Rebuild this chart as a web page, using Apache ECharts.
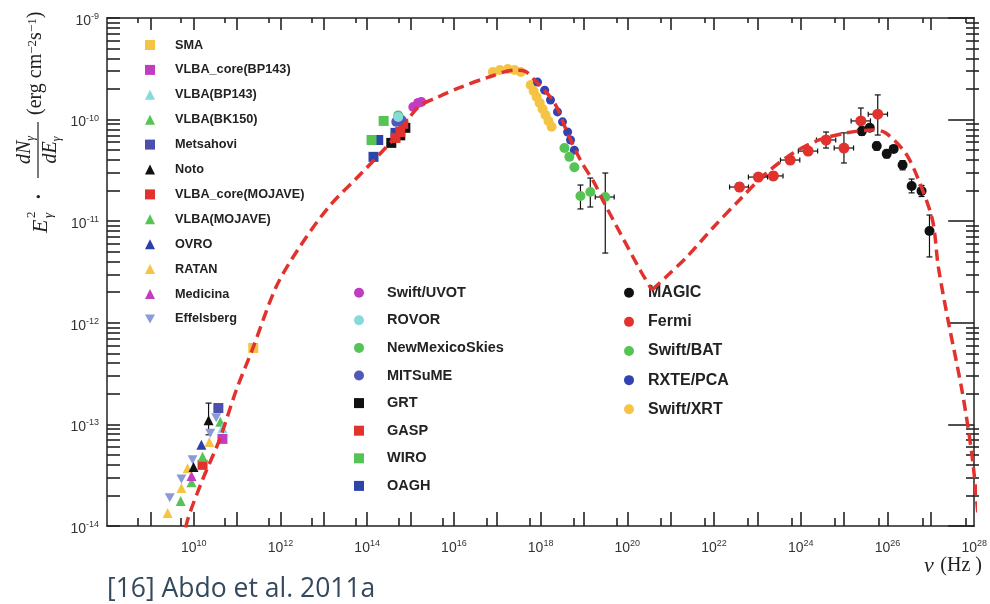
<!DOCTYPE html>
<html><head><meta charset="utf-8">
<script src="https://cdn.jsdelivr.net/npm/echarts@6/dist/echarts.min.js"></script>
<style>html,body{margin:0;padding:0;background:#fff}#c{width:990px;height:604px}</style>
</head><body><div id="c"></div>
<script>
// ---------- data: [nu (Hz), E^2 dN/dE, (Flo, Fhi), (nuLo, nuHi)] ----------
const SMA = [[2.36e11, 5.65e-13]];
const VLBA_core_BP143 = [[4.6e10, 7.2e-14]];
const VLBA_BP143 = [[4.6e10, 9.2e-14]];
const VLBA_BK150 = [[4.1e10, 1.06e-13], [1.6e10, 4.8e-14]];
const Metsahovi = [[3.7e10, 1.45e-13]];
const Noto = [[2.2e10, 1.10e-13, 7.9e-14, 1.62e-13], [9.9e9, 3.8e-14]];
const VLBA_core_MOJAVE = [[1.6e10, 4.0e-14]];
const VLBA_MOJAVE = [[8.9e9, 2.7e-14], [5.0e9, 1.76e-14]];
const OVRO = [[1.5e10, 6.3e-14]];
const RATAN = [[2.3e10, 6.7e-14], [7.2e9, 3.7e-14], [5.2e9, 2.37e-14], [2.5e9, 1.34e-14]];
const Medicina = [[8.9e9, 3.1e-14]];
const Effelsberg = [[3.3e10, 1.16e-13], [2.4e10, 8.2e-14], [9.4e9, 4.5e-14], [5.2e9, 2.9e-14], [2.8e9, 1.9e-14]];

const SwiftUVOT = [[1.16e15, 1.33e-10], [1.5e15, 1.46e-10], [1.77e15, 1.49e-10]];
const ROVOR = [[5.2e14, 1.06e-10]];
const NewMexicoSkies = [[5.2e14, 1.1e-10]];
const MITSuME = [[4.7e14, 9.5e-11], [6.2e14, 9.9e-11]];
const GRT = [[3.6e14, 5.9e-11], [5.8e14, 7.0e-11], [7.6e14, 8.3e-11]];
const GASP = [[4.5e14, 6.6e-11], [5.8e14, 7.55e-11], [6.8e14, 9.1e-11]];
const WIRO = [[2.4e14, 9.7e-11], [1.26e14, 6.3e-11]];
const OAGH = [[1.4e14, 4.3e-11], [1.8e14, 6.3e-11], [4.5e14, 7.4e-11]];

const MAGIC = [
  [2.56e25, 7.7e-11, 7.0e-11, 8.5e-11], [3.9e25, 8.3e-11, 7.7e-11, 8.9e-11],
  [5.65e25, 5.5e-11, 5.0e-11, 6.0e-11], [9.6e25, 4.6e-11, 4.2e-11, 5.0e-11],
  [1.39e26, 5.15e-11, 4.8e-11, 5.5e-11], [2.23e26, 3.57e-11, 3.2e-11, 3.95e-11],
  [3.6e26, 2.22e-11, 1.9e-11, 2.6e-11], [6.1e26, 1.98e-11, 1.75e-11, 2.25e-11],
  [9.3e26, 8.0e-12, 4.45e-12, 1.15e-11]
];
const Fermi = [
  [3.86e22, 2.17e-11, 1.98e-11, 2.38e-11, 2.28e22, 6.22e22],
  [1.05e23, 2.72e-11, 2.50e-11, 2.95e-11, 6.2e22, 1.72e23],
  [2.33e23, 2.79e-11, 2.55e-11, 3.05e-11, 1.4e23, 3.9e23],
  [5.7e23, 4.0e-11, 3.7e-11, 4.35e-11, 3.4e23, 9.5e23],
  [1.48e24, 4.9e-11, 4.5e-11, 5.35e-11, 8.8e23, 2.45e24],
  [3.83e24, 6.3e-11, 5.25e-11, 7.55e-11, 2.3e24, 6.4e24],
  [9.9e24, 5.25e-11, 3.74e-11, 7.4e-11, 5.9e24, 1.65e25],
  [2.43e25, 9.7e-11, 7.4e-11, 1.3e-10, 1.45e25, 4.05e25],
  [5.96e25, 1.13e-10, 7.05e-11, 1.75e-10, 3.6e25, 1.0e26]
];
const SwiftBAT = [
  [3.55e18, 5.25e-11], [4.6e18, 4.3e-11], [6.0e18, 3.4e-11],
  [8.3e18, 1.77e-11, 1.32e-11, 2.27e-11],
  [1.4e19, 1.94e-11, 1.38e-11, 2.66e-11],
  [3.1e19, 1.73e-11, 4.86e-12, 2.98e-11, 1.82e19, 4.98e19]
];
const RXTE_PCA = [[8.5e17, 2.34e-10], [1.24e18, 1.95e-10], [1.69e18, 1.56e-10], [2.45e18, 1.19e-10],
  [3.2e18, 9.5e-11], [4.2e18, 7.55e-11], [4.9e18, 6.3e-11], [6.0e18, 5.0e-11]];
const SwiftXRT = [[7.9e16, 2.94e-10], [1.15e17, 3.08e-10], [1.75e17, 3.15e-10], [2.5e17, 3.08e-10],
  [3.5e17, 2.94e-10], [5.9e17, 2.19e-10], [6.9e17, 1.91e-10], [8.1e17, 1.67e-10], [9.5e17, 1.46e-10],
  [1.11e18, 1.27e-10], [1.30e18, 1.11e-10], [1.52e18, 9.7e-11], [1.79e18, 8.5e-11]];

// model curve (synchrotron branch and inverse-Compton branch)
const modelSync = [[5.53e9, 6.6e-15], [7.21e9, 1.146e-14], [1.59e10, 2.84e-14], [3.91e10, 7.02e-14],
  [9.59e10, 2.18e-13], [2.23e11, 5.40e-13], [7.93e11, 2.25e-12], [2.67e12, 5.44e-12], [1.30e13, 1.38e-11],
  [7.45e13, 2.98e-11], [4.48e14, 6.75e-11], [1.51e15, 1.33e-10], [4.35e15, 1.67e-10], [1.46e16, 2.09e-10],
  [6.08e16, 2.60e-10], [2.54e17, 3.07e-10], [4.30e17, 3.0e-10], [7.28e17, 2.45e-10], [2.09e18, 1.46e-10],
  [4.16e18, 7.38e-11], [8.26e18, 4.00e-11], [1.73e19, 2.38e-11], [2.94e19, 1.51e-11], [6.84e19, 7.65e-12],
  [1.97e20, 3.31e-12], [3.71e20, 2.10e-12]];
const modelIC = [[3.71e20, 2.10e-12], [7.36e20, 2.76e-12], [2.36e21, 4.45e-12], [9.79e21, 8.77e-12],
  [3.86e22, 1.62e-11], [1.61e23, 2.98e-11], [6.70e23, 4.69e-11], [2.64e24, 6.30e-11], [1.10e25, 7.38e-11],
  [4.58e25, 7.91e-11], [9.10e25, 7.38e-11], [2.61e26, 4.69e-11], [5.20e26, 2.55e-11], [1.09e27, 1.03e-11],
  [1.49e27, 3.54e-12], [2.54e27, 1.02e-12], [5.31e27, 2.08e-13], [9.0e27, 4.78e-14], [1.24e28, 1.20e-14]];

const legendCol1 = ['SMA', 'VLBA_core(BP143)', 'VLBA(BP143)', 'VLBA(BK150)', 'Metsahovi', 'Noto',
  'VLBA_core(MOJAVE)', 'VLBA(MOJAVE)', 'OVRO', 'RATAN', 'Medicina', 'Effelsberg'];
const legendCol2 = ['Swift/UVOT', 'ROVOR', 'NewMexicoSkies', 'MITSuME', 'GRT', 'GASP', 'WIRO', 'OAGH'];
const legendCol3 = ['MAGIC', 'Fermi', 'Swift/BAT', 'RXTE/PCA', 'Swift/XRT'];

const X_MIN = 1e8, X_MAX = 1e28, Y_MIN = 1e-14, Y_MAX = 1e-9;
const xLabelValues = [1e10, 1e12, 1e14, 1e16, 1e18, 1e20, 1e22, 1e24, 1e26, 1e28];
const yLabelValues = [1e-14, 1e-13, 1e-12, 1e-11, 1e-10, 1e-9];

// ---------- tick positions ----------
const xMajor = [], xMinor = [], yMajor = [], yMinor = [];
for (let n = 9; n <= 27; n++) xMajor.push(Number('1e' + n));
for (let n = 8; n <= 27; n++) xMinor.push(Number('5e' + n));
for (let n = -14; n <= -9; n++) yMajor.push(Number('1e' + n));
for (let n = -14; n <= -10; n++) for (let k = 2; k <= 9; k++) yMinor.push(Number(k + 'e' + n));

const INK = '#222';
const labelRich = {
  b: { fontSize: 14, fontFamily: 'Liberation Sans', color: '#333', lineHeight: 20, verticalAlign: 'bottom' },
  s: { fontSize: 9, fontFamily: 'Liberation Sans', color: '#333', lineHeight: 12, verticalAlign: 'top', padding: [4, 0, 0, 0] }
};
function expFmt(v) { return '{b|10}{s|' + Math.round(Math.log10(v)) + '}'; }

function axis(kind, grid, pos, o) {
  const a = {
    type: 'log', logBase: 10, gridIndex: grid, position: pos,
    min: kind === 'x' ? X_MIN : Y_MIN, max: kind === 'x' ? X_MAX : Y_MAX,
    splitLine: { show: false },
    axisLine: { show: o.line, lineStyle: { color: INK, width: 1.5 } },
    axisTick: { show: true, inside: true, length: o.len, customValues: o.ticks, lineStyle: { color: INK, width: 1.6 } },
    axisLabel: { show: false }
  };
  if (o.labels) {
    a.axisLabel = { show: true, customValues: o.labels, formatter: expFmt, rich: labelRich, margin: o.margin };
  }
  return a;
}

function sc(name, data, symbol, color, size) {
  return {
    type: 'scatter', name: name, data: data.map(r => [r[0], r[1]]), symbol: symbol, symbolSize: size,
    symbolKeepAspect: true, itemStyle: { color: color, opacity: 1 }, z: 3, silent: true,
    xAxisIndex: 0, yAxisIndex: 0
  };
}
const INV_TRI = 'path://M0,0L10,0L5,9Z';

const errRows = [];
[Noto, MAGIC, Fermi, SwiftBAT].forEach(arr => arr.forEach(r => { if (r.length >= 4) errRows.push(r); }));

const col = {
  yellow: '#f6c445', magenta: '#c23cc2', cyan: '#86dada', green: '#55c455', slate: '#4b4fae',
  black: '#111111', red: '#e2322e', navy: '#2e3eae', effels: '#8b9bd8', mitsume: '#5258b8',
  oagh: '#2d44aa', rxte: '#3242b2'
};

const legendBase = {
  orient: 'vertical', itemWidth: 10, itemHeight: 10, selectedMode: false, padding: 0
};
function legendText(size, padLeft) {
  return { fontFamily: 'Liberation Sans', fontWeight: 'bold', fontSize: size, color: '#222', padding: [0, 0, 0, padLeft] };
}

const option = {
  animation: false,
  backgroundColor: '#ffffff',
  grid: [
    { left: 107, right: 11, top: 18, bottom: 78 },
    { left: 107, right: 11, top: 18, bottom: 78 }
  ],
  xAxis: [
    axis('x', 0, 'bottom', { line: true, len: 14, ticks: xMajor, labels: xLabelValues, margin: 9 }),
    axis('x', 0, 'top', { line: true, len: 12, ticks: xMajor }),
    axis('x', 1, 'bottom', { line: false, len: 8, ticks: xMinor }),
    axis('x', 1, 'top', { line: false, len: 5, ticks: xMinor })
  ],
  yAxis: [
    axis('y', 0, 'left', { line: true, len: 13, ticks: yMajor, labels: yLabelValues, margin: 8 }),
    axis('y', 0, 'right', { line: true, len: 26, ticks: yMajor }),
    axis('y', 1, 'left', { line: false, len: 13, ticks: yMinor }),
    axis('y', 1, 'right', { line: false, len: 13, ticks: yMinor })
  ],
  legend: [
    Object.assign({}, legendBase, { data: legendCol1, left: 145, top: 38.5, itemGap: 11.9, textStyle: legendText(12.7, 15) }),
    Object.assign({}, legendBase, { data: legendCol2, left: 354, top: 285.2, itemGap: 12.6, textStyle: legendText(14.5, 18) }),
    Object.assign({}, legendBase, { data: legendCol3, left: 624, top: 284.7, itemGap: 13.15, textStyle: legendText(16, 9) })
  ],
  series: [
    {
      type: 'custom', name: 'errors', xAxisIndex: 0, yAxisIndex: 0, z: 2, silent: true,
      data: errRows.map(r => [r[0], r[1]]),
      renderItem: function (params, api) {
        const r = errRows[params.dataIndex];
        const st = { stroke: '#111', lineWidth: 1.2 };
        const ch = [];
        const lo = api.coord([r[0], r[2]]), hi = api.coord([r[0], r[3]]);
        ch.push({ type: 'line', shape: { x1: lo[0], y1: lo[1], x2: hi[0], y2: hi[1] }, style: st });
        ch.push({ type: 'line', shape: { x1: lo[0] - 3, y1: lo[1], x2: lo[0] + 3, y2: lo[1] }, style: st });
        ch.push({ type: 'line', shape: { x1: hi[0] - 3, y1: hi[1], x2: hi[0] + 3, y2: hi[1] }, style: st });
        if (r.length >= 6) {
          const l = api.coord([r[4], r[1]]), h = api.coord([r[5], r[1]]);
          ch.push({ type: 'line', shape: { x1: l[0], y1: l[1], x2: h[0], y2: h[1] }, style: st });
          ch.push({ type: 'line', shape: { x1: l[0], y1: l[1] - 2.5, x2: l[0], y2: l[1] + 2.5 }, style: st });
          ch.push({ type: 'line', shape: { x1: h[0], y1: h[1] - 2.5, x2: h[0], y2: h[1] + 2.5 }, style: st });
        }
        return { type: 'group', children: ch };
      }
    },
    sc('SMA', SMA, 'rect', col.yellow, 10),
    sc('RATAN', RATAN, 'triangle', col.yellow, 10),
    sc('VLBA(MOJAVE)', VLBA_MOJAVE, 'triangle', col.green, 10),
    sc('Medicina', Medicina, 'triangle', col.magenta, 10),
    sc('Effelsberg', Effelsberg, INV_TRI, col.effels, 10),
    sc('VLBA_core(MOJAVE)', VLBA_core_MOJAVE, 'rect', col.red, 10),
    sc('OVRO', OVRO, 'triangle', col.navy, 10),
    sc('VLBA(BK150)', VLBA_BK150, 'triangle', col.green, 10),
    sc('VLBA_core(BP143)', VLBA_core_BP143, 'rect', col.magenta, 10),
    sc('VLBA(BP143)', VLBA_BP143, 'triangle', col.cyan, 10),
    sc('Metsahovi', Metsahovi, 'rect', col.slate, 10),
    sc('Noto', Noto, 'triangle', col.black, 10),
    sc('OAGH', OAGH, 'rect', col.oagh, 10),
    sc('WIRO', WIRO, 'rect', col.green, 10),
    sc('GRT', GRT, 'rect', col.black, 10),
    sc('GASP', GASP, 'rect', col.red, 10),
    sc('MITSuME', MITSuME, 'circle', col.mitsume, 10),
    sc('NewMexicoSkies', NewMexicoSkies, 'circle', col.green, 10),
    sc('ROVOR', ROVOR, 'circle', col.cyan, 10),
    sc('Swift/UVOT', SwiftUVOT, 'circle', col.magenta, 10),
    sc('Swift/XRT', SwiftXRT, 'circle', col.yellow, 10),
    sc('RXTE/PCA', RXTE_PCA, 'circle', col.rxte, 9),
    sc('Swift/BAT', SwiftBAT, 'circle', col.green, 10),
    sc('Fermi', Fermi, 'circle', col.red, 11),
    sc('MAGIC', MAGIC, 'circle', col.black, 10),
    {
      type: 'line', name: 'model', data: modelSync, smooth: 0.3, showSymbol: false, z: 4, silent: true,
      lineStyle: { color: '#e2322e', width: 3.5, type: [11, 6] }, clip: true
    },
    {
      type: 'line', name: 'model2', data: modelIC, smooth: 0.3, showSymbol: false, z: 4, silent: true,
      lineStyle: { color: '#e2322e', width: 3.5, type: [11, 6] }, clip: true
    }
  ],
  graphic: [
    {
      type: 'group', x: 40, y: 233, rotation: Math.PI / 2, silent: true,
      children: [
        { type: 'text', x: 0, y: 1, style: { text: 'E', font: 'italic 22px "Liberation Serif"', fill: INK, textAlign: 'left', textVerticalAlign: 'middle' } },
        { type: 'text', x: 15, y: -8, style: { text: '2', font: '13px "Liberation Serif"', fill: INK, textAlign: 'left', textVerticalAlign: 'middle' } },
        { type: 'text', x: 15, y: 9, style: { text: 'γ', font: 'italic 13px "Liberation Serif"', fill: INK, textAlign: 'left', textVerticalAlign: 'middle' } },
        { type: 'text', x: 33, y: 0, style: { text: '·', font: 'bold 20px "Liberation Serif"', fill: INK, textAlign: 'left', textVerticalAlign: 'middle' } },
        { type: 'text', x: 83, y: -14, style: { text: '{n|dN}{s|γ}', textAlign: 'center', textVerticalAlign: 'middle', fill: INK,
            rich: { n: { font: 'italic 20px "Liberation Serif"', lineHeight: 22, verticalAlign: 'top' }, s: { font: 'italic 12px "Liberation Serif"', lineHeight: 12, verticalAlign: 'bottom' } } } },
        { type: 'line', shape: { x1: 55, y1: -2, x2: 111, y2: -2 }, style: { stroke: INK, lineWidth: 1.2 } },
        { type: 'text', x: 83, y: 12, style: { text: '{n|dE}{s|γ}', textAlign: 'center', textVerticalAlign: 'middle', fill: INK,
            rich: { n: { font: 'italic 20px "Liberation Serif"', lineHeight: 22, verticalAlign: 'top' }, s: { font: 'italic 12px "Liberation Serif"', lineHeight: 12, verticalAlign: 'bottom' } } } },
        { type: 'text', x: 118, y: -4, style: { text: '(erg cm{p|−2}s{p|−1})', textAlign: 'left', textVerticalAlign: 'middle', fill: INK,
            font: '20px "Liberation Serif"',
            rich: { p: { font: '13px "Liberation Serif"', lineHeight: 12, verticalAlign: 'top' } } } }
      ]
    },
    {
      type: 'text', x: 982, y: 566, silent: true,
      style: { text: '{i|ν}  {n|(Hz )}', textAlign: 'right', textVerticalAlign: 'middle', fill: INK,
        rich: { i: { font: 'italic 22px "Liberation Serif"' }, n: { font: '20px "Liberation Serif"' } } }
    },
    {
      type: 'text', x: 107, y: 589, silent: true,
      style: { text: '[16] Abdo et al. 2011a', font: '26.5px "Open Sans"', fill: '#34495e', textAlign: 'left', textVerticalAlign: 'middle' }
    }
  ]
};

const chart = echarts.init(document.getElementById('c'), null, { renderer: 'canvas' });
chart.setOption(option);
</script></body></html>
